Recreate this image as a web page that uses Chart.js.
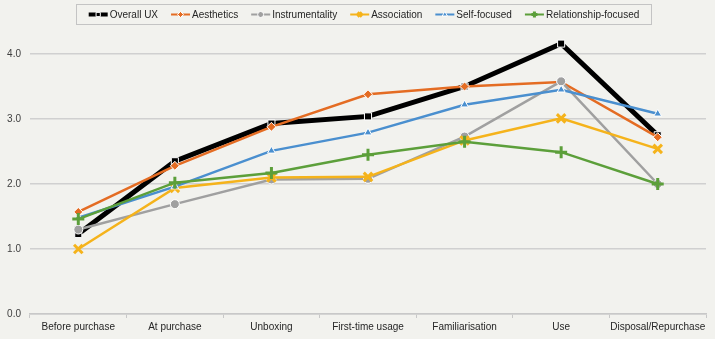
<!DOCTYPE html>
<html>
<head>
<meta charset="utf-8">
<script src="https://cdn.jsdelivr.net/npm/chart.js@4.4.0/dist/chart.umd.min.js"></script>
<style>
  html, body { margin: 0; padding: 0; background: #f2f2ee; }
  #wrap { width: 715px; height: 339px; }
</style>
</head>
<body>
<div id="wrap"><canvas id="chart" width="715" height="339"></canvas></div>
<script>
// Phases of the product experience
const phases = ["Before purchase", "At purchase", "Unboxing", "First-time usage", "Familiarisation", "Use", "Disposal/Repurchase"];

// Mean scores per dimension
const overallUX       = [1.23, 2.35, 2.93, 3.04, 3.50, 4.16, 2.75];
const aesthetics      = [1.57, 2.28, 2.88, 3.38, 3.50, 3.57, 2.72];
const instrumentality = [1.30, 1.69, 2.07, 2.08, 2.73, 3.58, 2.00];
const association     = [1.00, 1.94, 2.10, 2.11, 2.67, 3.01, 2.54];
const selfFocused     = [1.48, 1.96, 2.51, 2.79, 3.22, 3.45, 3.08];
const relationship    = [1.46, 2.02, 2.17, 2.45, 2.65, 2.49, 2.00];

const yTicks = [0, 1, 2, 3, 4];

const FONT = "'Liberation Sans', Arial, sans-serif";

// Helper to build one line series with Excel-like markers
const series = (label, data, color, style, opts = {}) => ({
  label,
  data,
  borderColor: color,
  backgroundColor: color,
  borderWidth: opts.lineWidth || 2.5,
  pointStyle: style,
  pointRadius: opts.radius || 4,
  pointBackgroundColor: color,
  pointBorderColor: opts.pointBorder || "#ffffff",
  pointBorderWidth: opts.pointBorderWidth !== undefined ? opts.pointBorderWidth : 1,
  pointHoverRadius: opts.radius || 4,
  tension: 0,
});

const datasets = [
  series("Overall UX", overallUX, "#000000", "rect", { lineWidth: 5, radius: 5 }),
  series("Aesthetics", aesthetics, "#e46c23", "rectRot", { radius: 4.5 }),
  series("Instrumentality", instrumentality, "#a0a0a0", "circle", { radius: 4.5 }),
  series("Association", association, "#f5b31b", "crossRot", { radius: 6, pointBorder: "#f5b31b", pointBorderWidth: 3 }),
  series("Self-focused", selfFocused, "#4a8fcf", "triangle", { radius: 4.5 }),
  series("Relationship-focused", relationship, "#5c9f3a", "cross", { radius: 6, pointBorder: "#5c9f3a", pointBorderWidth: 3 }),
];
// later series drawn on top, like the spreadsheet original
datasets.forEach((d, i) => { d.order = datasets.length - i; });

// Custom boxed legend drawn at the top, Excel style
const boxLegend = {
  id: "boxLegend",
  afterDraw(chart) {
    const ctx = chart.ctx;
    const box = { left: 76.5, top: 4.5, right: 651.5, bottom: 24.5 };
    ctx.save();
    ctx.strokeStyle = "#c4c4c4";
    ctx.lineWidth = 1;
    ctx.strokeRect(box.left, box.top, box.right - box.left, box.bottom - box.top);

    ctx.font = "10px " + FONT;
    const lineLen = 19, gapText = 2, gapItem = 13;
    const widths = chart.data.datasets.map(d => lineLen + gapText + ctx.measureText(d.label).width);
    const total = widths.reduce((a, b) => a + b, 0) + gapItem * (widths.length - 1);
    let x = (box.left + box.right) / 2 - total / 2;
    const y = (box.top + box.bottom) / 2;

    chart.data.datasets.forEach((d, i) => {
      ctx.strokeStyle = d.borderColor;
      ctx.lineWidth = d.borderWidth > 3 ? 4 : 2;
      ctx.beginPath();
      ctx.moveTo(x, y);
      ctx.lineTo(x + lineLen, y);
      ctx.stroke();
      ctx.fillStyle = d.pointBackgroundColor;
      ctx.strokeStyle = d.pointBorderColor;
      ctx.lineWidth = d.pointBorderWidth;
      Chart.helpers.drawPoint(ctx, {
        pointStyle: d.pointStyle,
        radius: Math.min(d.pointRadius, 4) * 0.75,
        borderWidth: d.pointBorderWidth,
        rotation: 0,
      }, x + lineLen / 2, y);
      ctx.fillStyle = "#262626";
      ctx.textBaseline = "middle";
      ctx.textAlign = "left";
      ctx.fillText(d.label, x + lineLen + gapText, y + 0.5);
      x += widths[i] + gapItem;
    });
    ctx.restore();
  },
};

new Chart(document.getElementById("chart").getContext("2d"), {
  type: "line",
  data: { labels: phases, datasets },
  options: {
    responsive: false,
    animation: false,
    layout: { padding: { top: 28, right: 7, left: 0, bottom: 0 } },
    plugins: {
      legend: { display: false },
      tooltip: { enabled: false },
    },
    scales: {
      x: {
        offset: true,
        grid: {
          offset: true,
          drawOnChartArea: false,
          drawTicks: true,
          tickLength: 4,
          color: "#c8c8c8",
        },
        border: { color: "#c8c8c8", width: 1.5 },
        ticks: {
          color: "#262626",
          font: { family: FONT, size: 10 },
          padding: 3,
          maxRotation: 0,
          autoSkip: false,
        },
        afterFit(scale) { scale.height = 25; },
      },
      y: {
        min: 0,
        max: 4.4,
        afterBuildTicks(scale) {
          scale.ticks = yTicks.map(v => ({ value: v }));
        },
        grid: {
          color: "#d0d0d0",
          lineWidth: 1.5,
          drawTicks: false,
        },
        border: { display: false },
        ticks: {
          color: "#404040",
          font: { family: FONT, size: 10 },
          padding: 9,
          callback: v => v.toFixed(1),
        },
        afterFit(scale) { scale.width = 30; },
      },
    },
  },
  plugins: [boxLegend],
});
</script>
</body>
</html>
